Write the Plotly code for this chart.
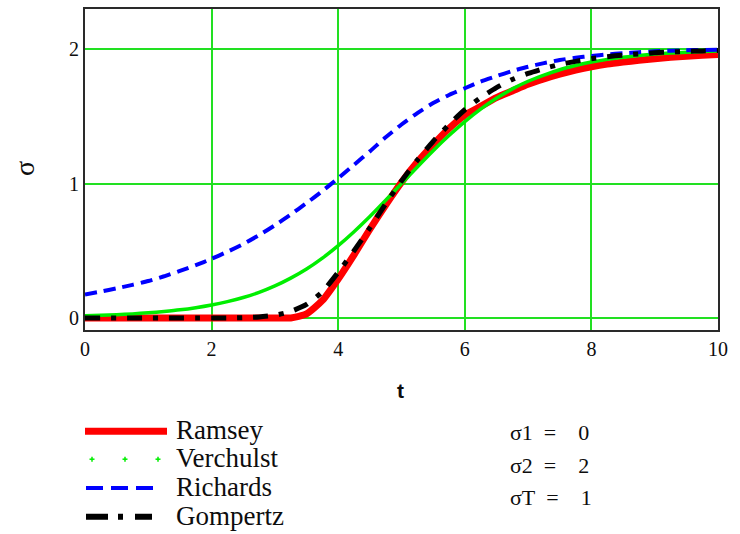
import plotly.graph_objects as go

# Sample times (shared by all four curves)
t = [0.0, 0.25, 0.5, 0.75, 1.0, 1.25, 1.5, 1.75, 2.0, 2.25,
     2.5, 2.75, 3.0, 3.25, 3.5, 3.75, 4.0, 4.25, 4.5, 4.75,
     5.0, 5.25, 5.5, 5.75, 6.0, 6.25, 6.5, 6.75, 7.0, 7.25,
     7.5, 7.75, 8.0, 8.25, 8.5, 8.75, 9.0, 9.25, 9.5, 9.75, 10.0]

ramsey = [0, 0, 0, 0, 0, 0, 0, 0, 0, 0,
          0, 0, 0, 0, 0.03, 0.13, 0.29, 0.47, 0.66, 0.84,
          1.01, 1.16, 1.29, 1.41, 1.51, 1.575, 1.64, 1.69, 1.74, 1.78,
          1.815, 1.845, 1.87, 1.89, 1.905, 1.918, 1.93, 1.94, 1.948, 1.955, 1.962]

verchulst = [0.016, 0.02, 0.024, 0.03, 0.038, 0.048, 0.06, 0.076, 0.096, 0.121,
             0.152, 0.19, 0.238, 0.296, 0.364, 0.445, 0.538, 0.642, 0.755, 0.876,
             1.0, 1.124, 1.245, 1.358, 1.462, 1.555, 1.636, 1.705, 1.762, 1.808,
             1.848, 1.879, 1.905, 1.925, 1.941, 1.953, 1.964, 1.972, 1.978, 1.983, 1.987]

richards = [0.175, 0.196, 0.22, 0.246, 0.275, 0.31, 0.35, 0.393, 0.44, 0.493,
            0.55, 0.617, 0.69, 0.77, 0.855, 0.945, 1.04, 1.14, 1.24, 1.345,
            1.44, 1.525, 1.6, 1.66, 1.71, 1.76, 1.8, 1.838, 1.87, 1.897,
            1.92, 1.937, 1.95, 1.962, 1.97, 1.978, 1.985, 1.99, 1.993, 1.995, 1.997]

gompertz = [0, 0, 0, 0, 0, 0, 0, 0, 0, 0,
            0.002, 0.007, 0.02, 0.048, 0.1, 0.195, 0.34, 0.5, 0.67, 0.85,
            1.02, 1.175, 1.315, 1.44, 1.55, 1.64, 1.715, 1.775, 1.82, 1.857,
            1.887, 1.91, 1.93, 1.945, 1.957, 1.966, 1.974, 1.98, 1.985, 1.988, 1.991]

x_ticks = [0, 2, 4, 6, 8, 10]
y_ticks = [0, 1, 2]
legend_names = ["Ramsey", "Verchulst", "Richards", "Gompertz"]
param_labels = ["σ1 = 0", "σ2 = 2", "σT = 1"]

W, H = 740, 534
L, R, T, B = 85, 22, 7, 204
PW, PH = W - L - R, H - T - B


def px(xp):
    return (xp - L) / PW


def py(yp):
    return (H - B - yp) / PH


SERIF = "Liberation Serif"
GRID = "#22e022"
INK = "#0d0d0d"
TICKFONT = dict(family=SERIF, size=20, color=INK)

fig = go.Figure()
fig.add_trace(go.Scatter(x=t, y=ramsey, mode="lines", name=legend_names[0],
                         line=dict(color="#ff0000", width=7, shape="spline", smoothing=0.6)))
fig.add_trace(go.Scatter(x=t, y=verchulst, mode="lines", name=legend_names[1],
                         line=dict(color="#00ee00", width=3.5, shape="spline", smoothing=0.6)))
fig.add_trace(go.Scatter(x=t, y=richards, mode="lines", name=legend_names[2],
                         line=dict(color="#0000ff", width=4, dash="12px,7px", shape="spline", smoothing=0.6)))
fig.add_trace(go.Scatter(x=t, y=gompertz, mode="lines", name=legend_names[3],
                         line=dict(color="#000000", width=5, dash="15px,11px,5px,11px", shape="spline", smoothing=0.6)))

shapes = []
annotations = []

# Legend samples drawn below the plot
shapes.append(dict(type="line", xref="paper", yref="paper", x0=px(85), x1=px(167), y0=py(432), y1=py(432),
                   line=dict(color="#ff0000", width=7)))
for cx in (92, 125, 158):
    shapes.append(dict(type="line", xref="paper", yref="paper", x0=px(cx - 2.5), x1=px(cx + 2.5),
                       y0=py(460), y1=py(460), line=dict(color="#00ee00", width=1.5)))
    shapes.append(dict(type="line", xref="paper", yref="paper", x0=px(cx), x1=px(cx),
                       y0=py(457.5), y1=py(462.5), line=dict(color="#00ee00", width=1.5)))
shapes.append(dict(type="line", xref="paper", yref="paper", x0=px(86), x1=px(154), y0=py(489), y1=py(489),
                   line=dict(color="#0000ff", width=4, dash="17px,8px")))
shapes.append(dict(type="line", xref="paper", yref="paper", x0=px(86), x1=px(152), y0=py(518), y1=py(518),
                   line=dict(color="#000000", width=6, dash="22px,10px,5px,12px")))

for name, yc in zip(legend_names, (431, 459, 488, 517)):
    annotations.append(dict(text=name, xref="paper", yref="paper", x=px(174), y=py(yc),
                            xanchor="left", yanchor="middle", showarrow=False,
                            font=dict(family=SERIF, size=27, color=INK)))

for lab, yc in zip(param_labels, (433, 466, 499)):
    annotations.append(dict(text=lab.replace(" = ", "\u2002=\u2003"), xref="paper", yref="paper",
                            x=px(508), y=py(yc), xanchor="left", yanchor="middle", showarrow=False,
                            font=dict(family=SERIF, size=22, color=INK)))

# Axis titles
annotations.append(dict(text="<b>t</b>", xref="paper", yref="paper", x=px(400), y=py(391),
                        xanchor="center", yanchor="middle", showarrow=False,
                        font=dict(family="Liberation Sans", size=21, color=INK)))
annotations.append(dict(text="σ", xref="paper", yref="paper", x=px(24), y=py(168),
                        xanchor="center", yanchor="middle", showarrow=False, textangle=-90,
                        font=dict(family=SERIF, size=28, color=INK)))

fig.update_layout(
    width=W, height=H,
    margin=dict(l=L, r=R, t=T, b=B),
    plot_bgcolor="white", paper_bgcolor="white",
    font=dict(family=SERIF, size=20, color=INK),
    showlegend=False,
    xaxis=dict(range=[0, 10], tickmode="array", tickvals=x_ticks,
               ticktext=[str(v) for v in x_ticks], tickfont=TICKFONT,
               showgrid=True, gridcolor=GRID, gridwidth=1.5,
               showline=True, linecolor="#2a2a2a", linewidth=2, mirror=True,
               zeroline=False, ticks=""),
    yaxis=dict(range=[-0.09, 2.3], tickmode="array", tickvals=y_ticks,
               ticktext=[str(v) for v in y_ticks], tickfont=TICKFONT,
               showgrid=True, gridcolor=GRID, gridwidth=1.5,
               showline=True, linecolor="#2a2a2a", linewidth=2, mirror=True,
               zeroline=False, ticks=""),
    shapes=shapes, annotations=annotations,
)

fig.write_html("out.html")
